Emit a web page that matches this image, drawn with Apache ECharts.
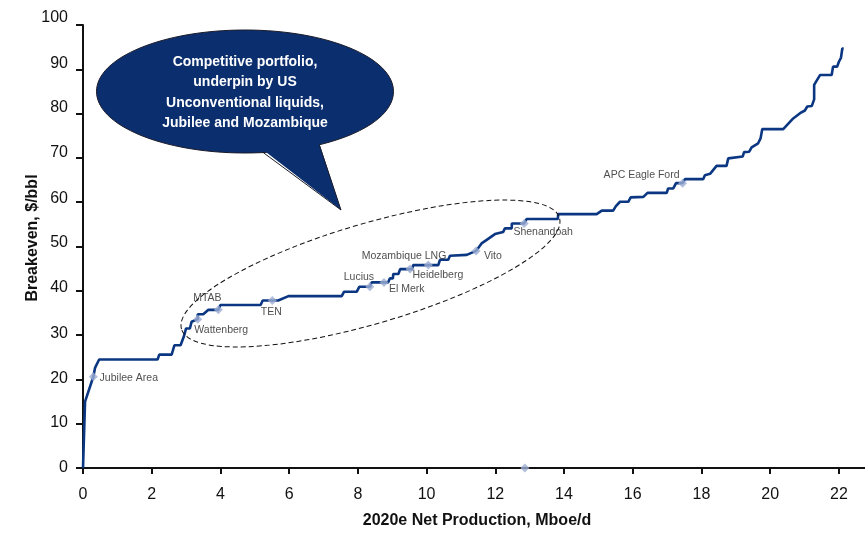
<!DOCTYPE html>
<html>
<head>
<meta charset="utf-8">
<script src="https://cdn.jsdelivr.net/npm/echarts@6/dist/echarts.min.js"></script>
<style>
  html, body { margin: 0; padding: 0; background: #fff; }
  #chart { width: 865px; height: 534px; }
</style>
</head>
<body>
<div id="chart"></div>
<script>
// Cumulative 2020e net production (Mboe/d) vs breakeven ($/bbl) supply curve
const curveProduction = [
  0, 0.06, 0.3, 0.35, 0.4, 0.47, 2.17, 2.22, 2.58, 2.66, 2.84, 2.94, 3.0, 3.11, 3.16, 3.34,
  3.34, 3.5, 3.65, 3.94, 4.0, 5.17, 5.23, 5.51, 5.68, 5.98, 7.53, 7.6, 7.97, 8.04, 8.35, 8.4,
  8.76, 8.88, 8.93, 9.02, 9.03, 9.18, 9.23, 9.52, 9.58, 9.61, 10.05, 10.34, 10.39, 10.63, 10.68,
  11.17, 11.44, 11.6, 11.75, 11.99, 12.23, 12.28, 12.48, 12.48, 12.84, 12.91, 13.82, 13.83,
  14.95, 15.1, 15.43, 15.51, 15.63, 15.87, 15.94, 16.31, 16.43, 16.99, 17.03, 17.18, 17.26,
  17.45, 17.52, 18.05, 18.1, 18.25, 18.44, 18.73, 18.78, 19.2, 19.24, 19.39, 19.46, 19.65,
  19.72, 19.77, 20.38, 20.67, 20.87, 21.01, 21.08, 21.21, 21.28, 21.28, 21.45, 21.79, 21.83,
  21.95, 22.0, 22.06, 22.1, 22.14
];
const curveBreakeven = [
  0, 15, 20.6, 22.6, 22.6, 24.5, 24.5, 25.6, 25.6, 27.7, 27.7, 29.8, 31.5, 31.5, 33, 33.6,
  34.7, 34.7, 35.7, 35.7, 36.8, 36.8, 37.8, 37.8, 37.8, 38.8, 38.8, 39.8, 39.8, 40.9, 40.9, 41.9,
  41.9, 41.9, 42.8, 42.8, 43.8, 43.8, 44.9, 44.9, 44.9, 45.8, 45.8, 45.8, 47, 47, 47.9,
  48.1, 49, 50.7, 51.5, 52.8, 53.3, 54.1, 54.1, 55.2, 55.2, 56.2, 56.2, 57.3,
  57.3, 58.1, 58.1, 59.1, 60.1, 60.1, 61.1, 61.2, 62.1, 62.1, 63.1, 63.1, 64.3,
  64.3, 65.2, 65.2, 66.1, 66.4, 68.2, 68.2, 69.9, 70.3, 71.3, 71.4, 72.4, 73.3,
  74.4, 76.5, 76.5, 78.9, 80.1, 80.7, 81.6, 81.7, 83.2, 86.5, 88.7, 88.7, 90.6,
  90.6, 91.7, 92.6, 94.7, 94.7
];

// Highlighted assets on the curve
const assetNames = ['Jubilee Area', 'Wattenberg', 'MTAB', 'TEN', 'Lucius', 'El Merk',
  'Heidelberg', 'Mozambique LNG', 'Vito', 'Shenandoah', 'APC Eagle Ford', ''];
const assetProduction = [0.3, 3.34, 3.94, 5.51, 8.35, 8.76, 9.52, 10.05, 11.44, 12.84, 17.45, 12.86];
const assetBreakeven = [20.6, 33.6, 35.7, 37.8, 40.9, 41.9, 44.9, 45.8, 49, 55.2, 64.3, 0];

// Axis ticks
const xTicks = [0, 2, 4, 6, 8, 10, 12, 14, 16, 18, 20, 22];
const yTicks = [0, 10, 20, 30, 40, 50, 60, 70, 80, 90, 100];

const calloutLines = ['Competitive portfolio,', 'underpin by US', 'Unconventional liquids,', 'Jubilee and Mozambique'];

const FONT = '"Liberation Sans", Arial, Helvetica, sans-serif';
const LINE_COLOR = '#0b3782';
const MARKER_COLOR = '#9cadd2';
const CALLOUT_COLOR = '#0a2e6e';

// Label placement around each asset marker (px offsets from marker centre)
const labelOffsets = {
  'Jubilee Area': [35.5, 1.5],
  'Wattenberg': [23.5, 10.5],
  'MTAB': [-11, -12],
  'TEN': [-1, 11.5],
  'Lucius': [-11, -9.5],
  'El Merk': [22.7, 6.4],
  'Heidelberg': [27.8, 5.7],
  'Mozambique LNG': [-24.3, -9.3],
  'Vito': [16.8, 5.2],
  'Shenandoah': [19, 8.7],
  'APC Eagle Ford': [-41, -7.6]
};

const curveData = curveProduction.map((x, i) => [x, curveBreakeven[i]]);
const assetData = assetNames.map((name, i) => ({
  name: name,
  value: [assetProduction[i], assetBreakeven[i]],
  label: name ? { offset: labelOffsets[name] } : { show: false }
}));

// y tick labels sit progressively higher toward the top of the axis
const yRich = {};
for (let k = 0; k <= 8; k++) {
  yRich['s' + k] = { fontFamily: FONT, fontSize: 16, color: '#111', padding: [0, 0, 2 * k, 0] };
}

const chart = echarts.init(document.getElementById('chart'), null, { renderer: 'canvas' });

chart.setOption({
  animation: false,
  backgroundColor: '#ffffff',
  grid: { left: 83, right: 0, top: 25, bottom: 66, containLabel: false, outerBoundsMode: 'none' },
  xAxis: {
    type: 'value',
    min: 0,
    max: 22.76,
    name: '2020e Net Production, Mboe/d',
    nameLocation: 'middle',
    nameGap: 45,
    nameMoveOverlap: false,
    nameTextStyle: { fontFamily: FONT, fontSize: 16, fontWeight: 'bold', color: '#111', padding: [0, 0, 0, 6] },
    axisLine: { show: true, onZero: false, lineStyle: { color: '#111', width: 2 } },
    axisTick: { show: true, length: 6, customValues: xTicks, lineStyle: { color: '#111', width: 2 } },
    axisLabel: { customValues: xTicks, fontFamily: FONT, fontSize: 16, color: '#111', margin: 19 },
    splitLine: { show: false }
  },
  yAxis: {
    type: 'value',
    min: 0,
    max: 100,
    name: 'Breakeven, $/bbl',
    nameLocation: 'middle',
    nameGap: 42,
    nameMoveOverlap: false,
    nameTextStyle: { fontFamily: FONT, fontSize: 16, fontWeight: 'bold', color: '#111', padding: [0, 0, 0, 17] },
    axisLine: { show: true, onZero: false, lineStyle: { color: '#111', width: 2 } },
    axisTick: { show: true, length: 7, customValues: yTicks, lineStyle: { color: '#111', width: 2 } },
    axisLabel: {
      customValues: yTicks,
      margin: 15,
      formatter: v => '{s' + Math.round(v * 0.07) + '|' + v + '}',
      rich: yRich
    },
    splitLine: { show: false }
  },
  series: [
    {
      type: 'line',
      data: curveData,
      showSymbol: false,
      lineStyle: { color: LINE_COLOR, width: 2.6 },
      z: 3
    },
    {
      type: 'scatter',
      data: assetData,
      symbol: 'diamond',
      symbolSize: 9,
      itemStyle: { color: MARKER_COLOR },
      label: {
        show: true,
        position: 'inside',
        formatter: p => p.name,
        fontFamily: FONT,
        fontSize: 10.5,
        color: '#222'
      },
      z: 4
    }
  ],
  graphic: [
    // dashed ring around the core portfolio
    {
      type: 'ellipse',
      x: 370.5,
      y: 273.5,
      rotation: 16.4 * Math.PI / 180,
      shape: { cx: 0, cy: 0, rx: 197, ry: 50 },
      style: { fill: null, stroke: '#111', lineWidth: 1, lineDash: [5, 3] },
      silent: true,
      z: 10
    },
    // speech bubble
    {
      type: 'ellipse',
      shape: { cx: 245, cy: 91.5, rx: 148.5, ry: 61.5 },
      style: { fill: CALLOUT_COLOR, stroke: '#1c1c2a', lineWidth: 1 },
      silent: true,
      z: 11
    },
    {
      type: 'polygon',
      shape: { points: [[262, 149], [319, 142.5], [341, 210]] },
      style: { fill: CALLOUT_COLOR },
      silent: true,
      z: 12
    },
    {
      type: 'polyline',
      shape: { points: [[263, 152.4], [341, 210], [319.3, 144.8]] },
      style: { fill: null, stroke: '#1c1c2a', lineWidth: 1 },
      silent: true,
      z: 12
    },
    {
      type: 'text',
      x: 245,
      y: 92.5,
      style: {
        text: calloutLines.join('\n'),
        fill: '#ffffff',
        font: 'bold 14px ' + FONT,
        lineHeight: 20.5,
        align: 'center',
        verticalAlign: 'middle'
      },
      silent: true,
      z: 13
    }
  ]
});
</script>
</body>
</html>
